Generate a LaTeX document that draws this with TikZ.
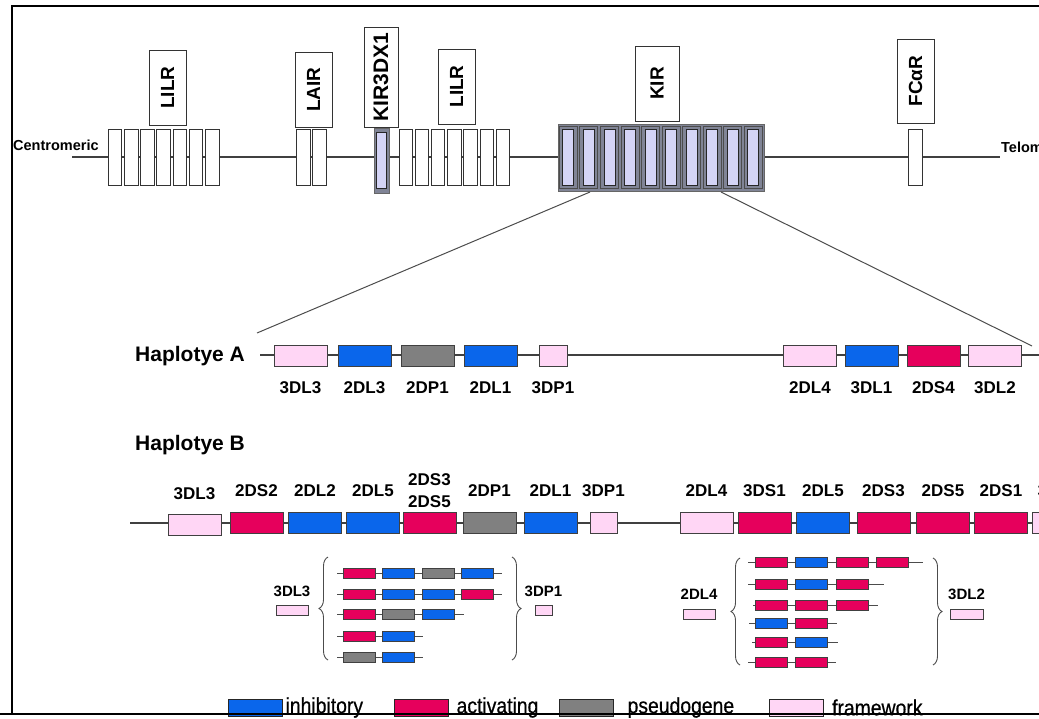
\documentclass[tikz,border=0pt]{standalone}
\usepackage{fontspec}
\setmainfont{Liberation Sans}
\newfontfamily\narrowfont[FakeStretch=0.88, FakeBold=0.6]{Liberation Sans}
\definecolor{kirblue}{RGB}{10, 102, 235}
\definecolor{kirred}{RGB}{230, 0, 92}
\definecolor{kirgray}{RGB}{128, 128, 128}
\definecolor{kirpink}{RGB}{255, 214, 245}
\definecolor{lavender}{RGB}{212, 212, 246}
\definecolor{blockgray}{RGB}{128, 132, 150}
\usetikzlibrary{positioning, decorations.pathreplacing}
\tikzset{
	chrom/.style={line width=1.1pt, draw=black!75},
	thinchrom/.style={line width=0.9pt, draw=black!70},
	zoomline/.style={line width=1pt, draw=black!70},
	exon/.style={rectangle, draw=black!80, fill=white, line width=0.8pt, minimum width=13.5pt, minimum height=56pt, inner sep=0pt},
	kirouter/.style={rectangle, draw=black!70, fill=blockgray, line width=0.8pt, minimum width=18pt, minimum height=62pt, inner sep=0pt},
	kirinner/.style={rectangle, draw=black!85, fill=lavender, line width=0.8pt, minimum width=11pt, minimum height=56pt, inner sep=0pt},
	tagbox/.style={rectangle, draw=black!80, fill=white, line width=0.8pt, rotate=90, inner sep=0pt, font=\fontsize{19}{19}\selectfont\bfseries},
	gene/.style={rectangle, draw=black!75, line width=0.8pt, minimum width=53pt, minimum height=21pt, inner sep=0pt},
	inhib/.style={gene, fill=kirblue},
	activ/.style={gene, fill=kirred},
	pseudo/.style={gene, fill=kirgray},
	fwork/.style={gene, fill=kirpink},
	mini/.style={minimum width=32pt, minimum height=10pt},
	legbox/.style={minimum width=54pt, minimum height=17pt, draw=black!85},
	genelabel/.style={font=\fontsize{17}{22}\selectfont\bfseries, inner sep=0pt, align=center},
	minilabel/.style={font=\fontsize{15}{17}\selectfont\bfseries, inner sep=0pt},
	haplabel/.style={font=\fontsize{21}{23}\selectfont\bfseries, inner sep=0pt, anchor=west},
	endlabel/.style={font=\fontsize{14.5}{16}\selectfont\bfseries, inner sep=0pt, anchor=west},
	legtext/.style={font=\narrowfont\fontsize{22}{24}\selectfont, inner sep=0pt},
	brace/.style={decorate, decoration={brace, amplitude=9pt}, line width=0.9pt, draw=black!70},
}

\begin{document}
\begin{tikzpicture}[x=1pt, y=-1pt]
		\useasboundingbox (0,0) rectangle (1039,718);
		\clip (0,0) rectangle (1039,718);
		\draw[line width=2.2pt] (1050,6) -- (12,6) -- (12,714) -- (1050,714);

		% chromosome overview
		\coordinate (cen) at (72,157);
		\coordinate (tel) at (1000,157);
		\draw[chrom] (cen) -- (tel);
		\node[endlabel] (centro) at (13,145) {Centromeric};
		\node[endlabel] (telo) at (1001,147) {Telomeric};
		\foreach \i in {0,...,6} \node[exon] (lilrA\i) at ({115+16.2*\i},157) {};
		\foreach \i in {0,1} \node[exon] (lair\i) at ({303.5+16*\i},157) {};
		\node[rectangle, fill=blockgray, draw=black!60, minimum width=15pt, minimum height=65pt, inner sep=0pt] (kirdx) at (381.5,160.5) {};
		\node[kirinner, minimum width=10pt] (kirdxin) at (381.5,160.5) {};
		\foreach \i in {0,...,6} \node[exon] (lilrB\i) at ({405.7+16.2*\i},157) {};
		\node[rectangle, fill=blockgray, draw=black!60, minimum width=206pt, minimum height=67pt, inner sep=0pt] (kirblk) at (661,157.5) {};
		\foreach \i in {0,...,9} {
			\node[kirouter] (kirO\i) at ({568.3+20.56*\i},157.5) {};
			\node[kirinner] (kirI\i) at ({568.3+20.56*\i},157.5) {};
		}
		\node[exon] (fca) at (915.5,157) {};
		\node[tagbox, minimum width=75pt, minimum height=37pt] (tagLilrA) at (167.5,87.5) {LILR};
		\node[tagbox, minimum width=75pt, minimum height=37pt] (tagLair) at (313.5,89.5) {LAIR};
		\node[tagbox, minimum width=100pt, minimum height=34pt, font=\fontsize{21}{21}\selectfont\bfseries] (tagDx) at (381,77) {KIR3DX1};
		\node[tagbox, minimum width=75pt, minimum height=37pt] (tagLilrB) at (456.5,86.5) {LILR};
		\node[tagbox, minimum width=75pt, minimum height=44pt] (tagKir) at (657,83.5) {KIR};
		\node[tagbox, minimum width=84pt, minimum height=37pt] (tagFca) at (915.5,81) {FCαR};

		% zoom into the KIR cluster
		\coordinate (kirL) at (590,192);
		\coordinate (kirR) at (721,192);
		\coordinate (hapAL) at (257,333);
		\coordinate (hapAR) at (1032,346);
		\draw[zoomline] (kirL) -- (hapAL);
		\draw[zoomline] (kirR) -- (hapAR);

		% haplotype A
		\node[haplabel] (hapA) at (135,356) {Haplotye A};
		\coordinate (hapAS) at (260,355);
		\coordinate (hapAE) at (1045,355);
		\draw[chrom] (hapAS) -- (hapAE);
		\node[fwork] (a3DL3) at (300.5,355.5) {};
		\node[inhib] (a2DL3) at (364.5,355.5) {};
		\node[pseudo] (a2DP1) at (427.5,355.5) {};
		\node[inhib] (a2DL1) at (490.5,355.5) {};
		\node[fwork, minimum width=28pt] (a3DP1) at (553,355.5) {};
		\node[fwork] (a2DL4) at (810,355.5) {};
		\node[inhib] (a3DL1) at (871.5,355.5) {};
		\node[activ] (a2DS4) at (933.5,355.5) {};
		\node[fwork] (a3DL2) at (995,355.5) {};
		\node[genelabel, below=15pt of a3DL3] (la3DL3) {3DL3};
		\node[genelabel, below=15pt of a2DL3] (la2DL3) {2DL3};
		\node[genelabel, below=15pt of a2DP1] (la2DP1) {2DP1};
		\node[genelabel, below=15pt of a2DL1] (la2DL1) {2DL1};
		\node[genelabel, below=15pt of a3DP1] (la3DP1) {3DP1};
		\node[genelabel, below=15pt of a2DL4] (la2DL4) {2DL4};
		\node[genelabel, below=15pt of a3DL1] (la3DL1) {3DL1};
		\node[genelabel, below=15pt of a2DS4] (la2DS4) {2DS4};
		\node[genelabel, below=15pt of a3DL2] (la3DL2) {3DL2};

		% haplotype B
		\node[haplabel] (hapB) at (135,445) {Haplotye B};
		\coordinate (hapBS) at (130,523);
		\coordinate (hapBE) at (1045,523);
		\draw[chrom] (hapBS) -- (hapBE);
		\node[fwork] (b3DL3) at (194.5,525) {};
		\node[activ] (b2DS2) at (256.5,523) {};
		\node[inhib] (b2DL2) at (315,523) {};
		\node[inhib] (b2DL5) at (373,523) {};
		\node[activ] (b2DS35) at (429.5,523) {};
		\node[pseudo] (b2DP1) at (489.5,523) {};
		\node[inhib] (b2DL1) at (550.5,523) {};
		\node[fwork, minimum width=27pt] (b3DP1) at (603.5,523) {};
		\node[fwork] (b2DL4) at (706.5,523) {};
		\node[activ] (b3DS1) at (764.5,523) {};
		\node[inhib] (b2DL5t) at (823,523) {};
		\node[activ] (b2DS3) at (883.5,523) {};
		\node[activ] (b2DS5) at (943,523) {};
		\node[activ] (b2DS1) at (1001,523) {};
		\node[fwork] (b3DL2) at (1058.5,523) {};
		\node[genelabel, above=14pt of b3DL3] (lb3DL3) {3DL3};
		\node[genelabel, above=15pt of b2DS2] (lb2DS2) {2DS2};
		\node[genelabel, above=15pt of b2DL2] (lb2DL2) {2DL2};
		\node[genelabel, above=15pt of b2DL5] (lb2DL5) {2DL5};
		\node[genelabel, above=4pt of b2DS35] (lb2DS35) {2DS3\\2DS5};
		\node[genelabel, above=15pt of b2DP1] (lb2DP1) {2DP1};
		\node[genelabel, above=15pt of b2DL1] (lb2DL1) {2DL1};
		\node[genelabel, above=15pt of b3DP1] (lb3DP1) {3DP1};
		\node[genelabel, above=15pt of b2DL4] (lb2DL4) {2DL4};
		\node[genelabel, above=15pt of b3DS1] (lb3DS1) {3DS1};
		\node[genelabel, above=15pt of b2DL5t] (lb2DL5t) {2DL5};
		\node[genelabel, above=15pt of b2DS3] (lb2DS3) {2DS3};
		\node[genelabel, above=15pt of b2DS5] (lb2DS5) {2DS5};
		\node[genelabel, above=15pt of b2DS1] (lb2DS1) {2DS1};
		\node[genelabel, above=15pt of b3DL2] (lb3DL2) {3DL2};

		% centromeric variants
		\node[fwork, mini] (c3DL3) at (292,610.5) {};
		\node[minilabel, above=8pt of c3DL3] (lc3DL3) {3DL3};
		\node[fwork, mini, minimum width=17pt] (c3DP1) at (543.5,610.5) {};
		\node[minilabel, above=8pt of c3DP1] (lc3DP1) {3DP1};
		\coordinate (cbrLa) at (328,660);
		\coordinate (cbrLb) at (328,557);
		\coordinate (cbrRa) at (512,557);
		\coordinate (cbrRb) at (512,660);
		\draw[brace] (cbrLa) -- (cbrLb);
		\draw[brace] (cbrRa) -- (cbrRb);
		\foreach \yy/\xend/\glist [count=\r] in {573/502/{activ,inhib,pseudo,inhib}, 594/502/{activ,inhib,inhib,activ}, 614/464/{activ,pseudo,inhib}, 636/423/{activ,inhib}, 657/423/{pseudo,inhib}} {
			\coordinate (crowS\r) at (337,\yy);
			\coordinate (crowE\r) at (\xend,\yy);
			\draw[thinchrom] (crowS\r) -- (crowE\r);
			\foreach \g [count=\c] in \glist
				\node[\g, mini] (cbox\r-\c) at ({320+39.3*\c},\yy) {};
		}

		% telomeric variants
		\node[fwork, mini] (t2DL4) at (699,614) {};
		\node[minilabel, above=9pt of t2DL4] (lt2DL4) {2DL4};
		\node[fwork, mini, minimum width=33pt] (t3DL2) at (966.5,614) {};
		\node[minilabel, above=9pt of t3DL2] (lt3DL2) {3DL2};
		\coordinate (tbrLa) at (740,665);
		\coordinate (tbrLb) at (740,558);
		\coordinate (tbrRa) at (933,558);
		\coordinate (tbrRb) at (933,665);
		\draw[brace] (tbrLa) -- (tbrLb);
		\draw[brace] (tbrRa) -- (tbrRb);
		\foreach \yy/\xs/\xend/\glist [count=\r] in {562/748/923/{activ,inhib,activ,activ}, 584/748/884/{activ,inhib,activ}, 605/753/878/{activ,activ,activ}, 623/749/837/{inhib,activ}, 642/752/838/{activ,inhib}, 662/748/836/{activ,activ}} {
			\coordinate (trowS\r) at (\xs,\yy);
			\coordinate (trowE\r) at (\xend,\yy);
			\draw[thinchrom] (trowS\r) -- (trowE\r);
			\foreach \g [count=\c] in \glist
				\node[\g, mini] (tbox\r-\c) at ({730.5+40.5*\c},\yy) {};
		}

		% legend
		\node[inhib, legbox] (legInhib) at (255,707.5) {};
		\node[legtext, right=3pt of legInhib] (legInhibT) {inhibitory};
		\node[activ, legbox] (legActiv) at (421,707.5) {};
		\node[legtext, right=8pt of legActiv] (legActivT) {activating};
		\node[pseudo, legbox] (legPseudo) at (586,707.5) {};
		\node[legtext, right=14pt of legPseudo] (legPseudoT) {pseudogene};
		\node[fwork, legbox] (legFwork) at (796.5,707.5) {};
		\node[legtext, right=8pt of legFwork] (legFworkT) {framework};
		\draw[line width=2.2pt] (0,714) -- (1050,714);
	\end{tikzpicture}
\end{document}
